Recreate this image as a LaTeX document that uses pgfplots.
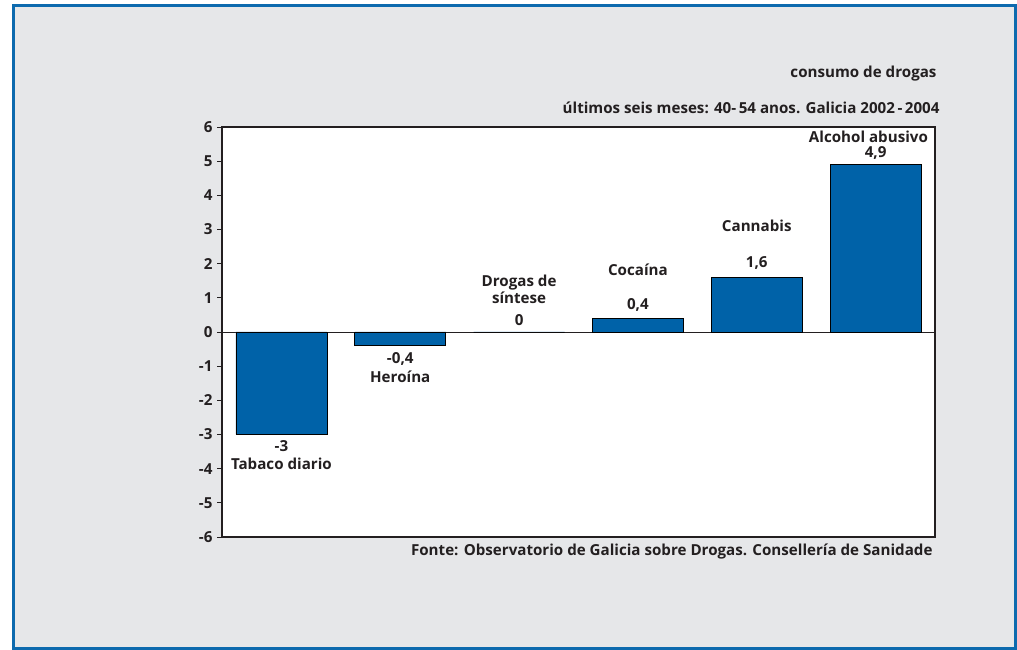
\documentclass[border=0pt]{standalone}
\usepackage{pgfplots}
\pgfplotsset{compat=1.18}
\usepackage{fontspec}
\setmainfont{Open Sans}
\definecolor{barblue}{HTML}{0062A8}
\definecolor{panelgray}{HTML}{E6E7E9}
\definecolor{frameblue}{HTML}{0D6AAE}
\definecolor{txt}{HTML}{231F20}
\newcommand\lbl{\fontsize{15.2}{17}\selectfont\bfseries}
\begin{document}
\begin{tikzpicture}[x=1bp,y=1bp,font=\lbl,text=txt]
\useasboundingbox (0,0) rectangle (1017,650);
\fill[white] (0,0) rectangle (1017,650);
\draw[frameblue,line width=2.6bp,fill=panelgray] (13.6,1.6) rectangle (1015.6,644.6);
% titles
\node[anchor=east] at (940,576) {consumo de drogas};
\node[anchor=east] at (943,542) {últimos seis meses: 40-\,54 anos. Galicia 2002\,-\,2004};
\node[anchor=east] at (936,98) {Fonte: Observatorio de Galicia sobre Drogas. Consellería de Sanidade};
\begin{axis}[
  at={(222bp,113bp)}, anchor=south west,
  scale only axis, width=713bp, height=410bp,
  xmin=-0.5, xmax=5.5, ymin=-6, ymax=6,
  axis background/.style={fill=white},
  axis line style={txt,line width=1.1pt},
  xtick=\empty,
  ytick={-6,-5,...,6},
  yticklabels={{-6},{-5},{-4},{-3},{-2},{-1},{0},{1},{2},{3},{4},{5},{6}},
  ytick pos=left,
  ytick style={txt,line width=0.8pt},
  tick align=outside, major tick length=5bp,
  yticklabel style={font=\lbl,text=txt,xshift=-1bp},
  extra y ticks={0}, extra y tick labels={},
  extra y tick style={grid=major,major grid style={txt,line width=0.5pt}},
  ybar, bar width=91bp,
  clip=false,
]
\addplot[fill=barblue,draw=black,line width=0.6pt] coordinates {
  (0,-3) (1,-0.4) (2,0) (3,0.4) (4,1.6) (5,4.9)};
% value and category labels
\node at (axis cs:0,-3.34) {-3};
\node at (axis cs:0,-3.86) {Tabaco diario};
\node at (axis cs:1,-0.79) {-0,4};
\node at (axis cs:1,-1.32) {Heroína};
\node at (axis cs:2,1.46) {Drogas de};
\node at (axis cs:2,1.00) {síntese};
\node at (axis cs:2,0.35) {0};
\node at (axis cs:3,1.81) {Cocaína};
\node at (axis cs:3,0.79) {0,4};
\node at (axis cs:4,3.10) {Cannabis};
\node at (axis cs:4,2.02) {1,6};
\node at (axis cs:4.94,5.71) {Alcohol abusivo};
\node at (axis cs:5,5.25) {4,9};
\end{axis}
\end{tikzpicture}
\end{document}
